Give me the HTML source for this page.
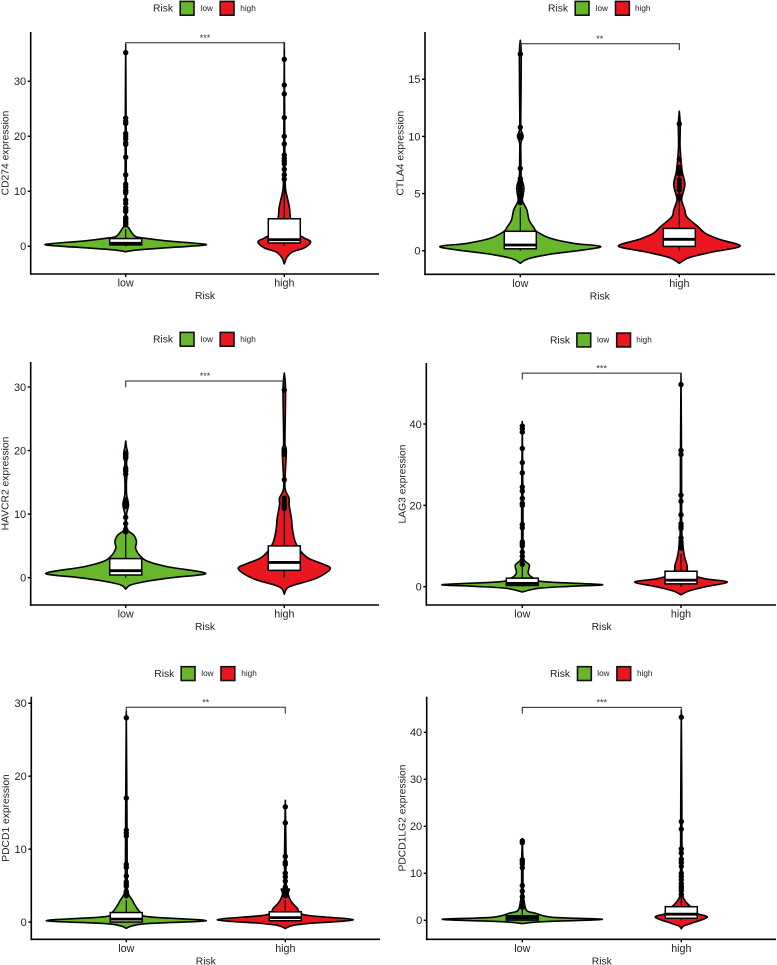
<!DOCTYPE html>
<html lang="en">
<head>
<meta charset="utf-8">
<title>Immune checkpoint expression by risk group</title>
<style>
html,body{margin:0;padding:0;background:#fff;}
svg{display:block;font-family:"Liberation Sans",Arial,sans-serif;}
</style>
</head>
<body>
<svg id="figure" xmlns="http://www.w3.org/2000/svg" width="777" height="965" viewBox="0 0 777 965"></svg>
<script>
const groups = ['low', 'high'];
const groupColors = ['#67B62B', '#E9171F'];

const cd274Ticks = [0, 10, 20, 30];
const cd274Domain = [-5.04, 38.96];
const cd274Bracket = [37];
const cd274Stars = ['***'];
const cd274LowValues = [-1, -0.85, -0.6, -0.25, 0, 0.36, 1, 1.45, 1.75, 2.7, 3.3, 3.6, 4.5, 6, 20, 36.7];
const cd274LowDensity = [0, 0.05, 0.2, 0.53, 0.8, 1, 0.5, 0.25, 0.125, 0.065, 0.04, 0.022, 0.012, 0.007, 0.006, 0];
const cd274LowBox = [0.25, 0.55, 1.4, 3.1, 0];
const cd274LowOutliers = [35.2, 23.3, 22.7, 22.3, 20.5, 20, 19.5, 18.8, 18.5, 16.2, 13, 11.3, 10.8, 10.2, 10, 9.7, 8.4, 7.8, 7, 6.6, 6.3, 5.2, 5, 4.7, 4.4, 4.1, 3.9];
const cd274HighValues = [-3.2, -2, -1, -0.3, 0.8, 1.5, 2.5, 5, 7, 9, 10, 12, 20, 37];
const cd274HighDensity = [0, 0.033, 0.105, 0.25, 0.33, 0.25, 0.15, 0.08, 0.065, 0.035, 0.02, 0.01, 0.006, 0];
const cd274HighBox = [0.6, 1.2, 5, 11.5, 0];
const cd274HighOutliers = [34, 29.3, 27.7, 23.4, 20, 18.6, 16.6, 16, 15.5, 15, 14, 13, 12.2];

const ctla4Ticks = [0, 5, 10, 15];
const ctla4Domain = [-2.06, 19.13];
const ctla4Bracket = [18.1];
const ctla4Stars = ['**'];
const ctla4LowValues = [-1.1, -0.7, -0.3, 0.32, 0.64, 1.08, 1.66, 2.07, 2.69, 3.56, 4.15, 4.5, 5.5, 6.5, 8, 9.4, 10, 10.6, 11.5, 17, 18.4];
const ctla4LowDensity = [0, 0.1, 0.375, 1, 0.67, 0.38, 0.21, 0.165, 0.11, 0.083, 0.04, 0.026, 0.045, 0.012, 0.008, 0.008, 0.035, 0.008, 0.006, 0.012, 0];
const ctla4LowBox = [0.17, 0.5, 1.7, 3.8, 0];
const ctla4LowOutliers = [17.2, 10.8, 10.1, 9.9, 7.2, 6.3, 6, 5.7, 5.4, 5.1, 4.8, 4.4, 4.2];
const ctla4HighValues = [-1.1, -0.6, -0.1, 0.4, 1, 1.5, 2.07, 2.95, 3.56, 4.15, 4.6, 5.8, 7, 9, 11, 12.2];
const ctla4HighDensity = [0, 0.125, 0.42, 0.76, 0.5, 0.33, 0.24, 0.095, 0.07, 0.04, 0.03, 0.07, 0.035, 0.01, 0.012, 0];
const ctla4HighBox = [0.38, 1, 1.95, 4.4, 0];
const ctla4HighOutliers = [11.1, 8, 7.3, 7, 6.7, 6.2, 5.9, 5.6, 5.3, 4.8, 4.6];

const havcr2Ticks = [0, 10, 20, 30];
const havcr2Domain = [-4.3, 33.93];
const havcr2Bracket = [30.95];
const havcr2Stars = ['***'];
const havcr2LowValues = [-1.8, -1.15, -0.6, 0, 0.68, 1.7, 2.5, 3.3, 4.6, 5.7, 6.7, 7.3, 8, 9.9, 11.5, 13, 15, 17, 18, 19.5, 20.5, 21.5];
const havcr2LowDensity = [0, 0.06, 0.25, 0.58, 1, 0.53, 0.29, 0.19, 0.125, 0.135, 0.1, 0.035, 0.012, 0.009, 0.035, 0.012, 0.009, 0.02, 0.01, 0.025, 0.01, 0];
const havcr2LowBox = [0.42, 1.1, 3, 7, 0];
const havcr2LowOutliers = [19.6, 19, 18.8, 17.2, 16.8, 16.3, 12.2, 11.8, 11.5, 11.2, 9.5, 8.5, 7.6, 7.2];
const havcr2HighValues = [-2.6, -1.7, -1.15, -0.1, 1.4, 2.25, 3, 4.1, 5.7, 7.8, 9.3, 11.4, 12.5, 13.8, 15.5, 19.5, 20.5, 21.5, 29.5, 32.2];
const havcr2HighDensity = [0, 0.033, 0.125, 0.4, 0.575, 0.46, 0.31, 0.21, 0.135, 0.1, 0.09, 0.06, 0.06, 0.012, 0.009, 0.025, 0.02, 0.008, 0.016, 0];
const havcr2HighBox = [1.15, 2.4, 5, 10.5, 0];
const havcr2HighOutliers = [29.5, 20, 19.4, 15.4, 12.5, 12, 11.6, 11.2, 10.9];

const lag3Ticks = [0, 20, 40];
const lag3Domain = [-4.5, 55];
const lag3Bracket = [52.5];
const lag3Stars = ['***'];
const lag3LowValues = [-1.3, -0.4, 0.1, 0.5, 1.2, 2, 3.3, 5.3, 6.5, 8, 20, 40.6];
const lag3LowDensity = [0, 0.2, 0.6, 1, 0.29, 0.15, 0.075, 0.088, 0.022, 0.009, 0.008, 0];
const lag3LowBox = [0.3, 0.8, 2.1, 5, 0];
const lag3LowOutliers = [39.5, 38.8, 38, 34, 30.5, 28, 24.5, 23.5, 21.7, 20.5, 20, 15.3, 14.5, 11, 10.5, 10, 8.5, 7.5, 6.5, 5.5];
const lag3HighValues = [-2, -1, 0, 1.15, 2, 3.3, 5.3, 7.8, 11, 15, 30, 52.4];
const lag3HighDensity = [0, 0.105, 0.31, 0.58, 0.29, 0.1, 0.075, 0.04, 0.02, 0.008, 0.007, 0];
const lag3HighBox = [0.7, 1.6, 3.8, 8, 0];
const lag3HighOutliers = [49.7, 33.5, 32.5, 22.5, 21, 17.7, 15.5, 14.8, 14.3, 12, 11, 10.5, 10, 9.5];

const pdcd1Ticks = [0, 10, 20, 30];
const pdcd1Domain = [-2.37, 30.9];
const pdcd1Bracket = [29.45];
const pdcd1Stars = ['**'];
const pdcd1LowValues = [-0.87, -0.5, -0.2, 0.2, 0.73, 1.4, 2.3, 3, 3.9, 5, 15, 28.9];
const pdcd1LowDensity = [0, 0.08, 0.29, 1, 0.27, 0.17, 0.11, 0.075, 0.025, 0.012, 0.008, 0];
const pdcd1LowBox = [0, 0.4, 1.3, 3, 0];
const pdcd1LowOutliers = [28, 17, 12.6, 12.2, 11.8, 7.9, 7.5, 6.3, 5.5, 5.2, 4.9, 4.2, 4, 3.8, 3.6];
const pdcd1HighValues = [-0.9, -0.5, -0.2, 0.32, 0.96, 1.9, 2.8, 3.9, 4.5, 5, 10, 16.7];
const pdcd1HighDensity = [0, 0.08, 0.29, 0.85, 0.25, 0.15, 0.075, 0.035, 0.05, 0.012, 0.009, 0];
const pdcd1HighBox = [0.18, 0.6, 1.4, 3, 0];
const pdcd1HighOutliers = [15.8, 13.6, 9, 8.2, 7.9, 6.7, 6.2, 5.6, 4.8, 4.5, 4.2, 3.9, 3.6];

const pdcd1lg2Ticks = [0, 10, 20, 30, 40];
const pdcd1lg2Domain = [-4.04, 47.57];
const pdcd1lg2Bracket = [45.3];
const pdcd1lg2Stars = ['***'];
const pdcd1lg2LowValues = [-0.7, -0.3, 0.2, 0.64, 1.5, 2, 3.3, 6, 12, 17.4];
const pdcd1lg2LowDensity = [0, 0.25, 1, 0.375, 0.165, 0.06, 0.03, 0.01, 0.008, 0];
const pdcd1lg2LowBox = [0.05, 0.5, 0.95, 2.2, 0];
const pdcd1lg2LowOutliers = [16.9, 16.5, 12.9, 12.5, 12, 11.2, 7.4, 6.2, 5, 4, 3.7, 3.4, 3.1, 2.8];
const pdcd1lg2HighValues = [-1.8, -1.2, -0.64, 0.64, 1.5, 2.9, 4.3, 6, 12, 25, 44.7];
const pdcd1lg2HighDensity = [0, 0.03, 0.125, 0.325, 0.19, 0.115, 0.042, 0.014, 0.009, 0.007, 0];
const pdcd1lg2HighBox = [0.43, 1.3, 2.9, 6, 0];
const pdcd1lg2HighOutliers = [43.2, 21, 19.4, 15.2, 14.3, 13, 12.3, 11.5, 10, 9.3, 8.6, 7.8, 7.2, 6.8, 6.3, 5.5];

const genes = [
  {slug: 'cd274', title: 'CD274 expression', ticks: cd274Ticks, domain: cd274Domain, bracket: cd274Bracket, stars: cd274Stars,
   values: [cd274LowValues, cd274HighValues], density: [cd274LowDensity, cd274HighDensity], box: [cd274LowBox, cd274HighBox], outliers: [cd274LowOutliers, cd274HighOutliers],
   frame: {l: 30.7, r: 379, t: 32, b: 274, a: 125.7, c: 284.3, ty: 5},
   legend: {y: 8, risk: 163, s1: 179.5, t1: 200.7, s2: 219.5, t2: 240.3}},
  {slug: 'ctla4', title: 'CTLA4 expression', ticks: ctla4Ticks, domain: ctla4Domain, bracket: ctla4Bracket, stars: ctla4Stars,
   values: [ctla4LowValues, ctla4HighValues], density: [ctla4LowDensity, ctla4HighDensity], box: [ctla4LowBox, ctla4HighBox], outliers: [ctla4LowOutliers, ctla4HighOutliers],
   frame: {l: 425, r: 775, t: 32, b: 274.3, a: 520.3, c: 679.3, ty: 400},
   legend: {y: 8, risk: 558, s1: 574.5, t1: 595.7, s2: 614.8, t2: 635}},
  {slug: 'havcr2', title: 'HAVCR2 expression', ticks: havcr2Ticks, domain: havcr2Domain, bracket: havcr2Bracket, stars: havcr2Stars,
   values: [havcr2LowValues, havcr2HighValues], density: [havcr2LowDensity, havcr2HighDensity], box: [havcr2LowBox, havcr2HighBox], outliers: [havcr2LowOutliers, havcr2HighOutliers],
   frame: {l: 30.7, r: 379, t: 362, b: 605, a: 125.7, c: 284.3, ty: 5},
   legend: {y: 339, risk: 163, s1: 179.5, t1: 200.7, s2: 219.5, t2: 240.3}},
  {slug: 'lag3', title: 'LAG3 expression', ticks: lag3Ticks, domain: lag3Domain, bracket: lag3Bracket, stars: lag3Stars,
   values: [lag3LowValues, lag3HighValues], density: [lag3LowDensity, lag3HighDensity], box: [lag3LowBox, lag3HighBox], outliers: [lag3LowOutliers, lag3HighOutliers],
   frame: {l: 426.3, r: 776, t: 363, b: 605, a: 522.3, c: 681, ty: 401.7},
   legend: {y: 339.7, risk: 560, s1: 576.2, t1: 597, s2: 616, t2: 636.3}},
  {slug: 'pdcd1', title: 'PDCD1 expression', ticks: pdcd1Ticks, domain: pdcd1Domain, bracket: pdcd1Bracket, stars: pdcd1Stars,
   values: [pdcd1LowValues, pdcd1HighValues], density: [pdcd1LowDensity, pdcd1HighDensity], box: [pdcd1LowBox, pdcd1HighBox], outliers: [pdcd1LowOutliers, pdcd1HighOutliers],
   frame: {l: 31.3, r: 380, t: 696.7, b: 939.3, a: 126.3, c: 285.3, ty: 5.5},
   legend: {y: 673.3, risk: 164.3, s1: 180.5, t1: 201.3, s2: 220.3, t2: 241.3}},
  {slug: 'pdcd1lg2', title: 'PDCD1LG2 expression', ticks: pdcd1lg2Ticks, domain: pdcd1lg2Domain, bracket: pdcd1lg2Bracket, stars: pdcd1lg2Stars,
   values: [pdcd1lg2LowValues, pdcd1lg2HighValues], density: [pdcd1lg2LowDensity, pdcd1lg2HighDensity], box: [pdcd1lg2LowBox, pdcd1lg2HighBox], outliers: [pdcd1lg2LowOutliers, pdcd1lg2HighOutliers],
   frame: {l: 426.7, r: 776, t: 696.7, b: 939.3, a: 522.3, c: 681.3, ty: 402},
   legend: {y: 673.3, risk: 560, s1: 576.8, t1: 597.3, s2: 616.2, t2: 637}}
];

const MAX_HALF_WIDTH = 80;
const BOX_HALF_WIDTH = 16;
const svg = document.getElementById('figure');
const NS = 'http://www.w3.org/2000/svg';

function make(parent, tag, props, text) {
  const node = document.createElementNS(NS, tag);
  for (const k in props) node.setAttribute(k, props[k]);
  if (text !== undefined) node.textContent = text;
  parent.appendChild(node);
  return node;
}

function smooth(points) {
  let d = 'M' + points[0][0].toFixed(2) + ' ' + points[0][1].toFixed(2);
  for (let i = 0; i < points.length - 1; i++) {
    const p0 = points[Math.max(i - 1, 0)], p1 = points[i], p2 = points[i + 1], p3 = points[Math.min(i + 2, points.length - 1)];
    const k = 1 / 6;
    const c1x = p1[0] + (p2[0] - p0[0]) * k, c1y = p1[1] + (p2[1] - p0[1]) * k;
    const c2x = p2[0] - (p3[0] - p1[0]) * k, c2y = p2[1] - (p3[1] - p1[1]) * k;
    d += 'C' + c1x.toFixed(2) + ' ' + c1y.toFixed(2) + ' ' + c2x.toFixed(2) + ' ' + c2y.toFixed(2) + ' ' + p2[0].toFixed(2) + ' ' + p2[1].toFixed(2);
  }
  return d;
}

function drawLegend(root, gene) {
  const L = gene.legend;
  const g = make(root, 'g', {});
  
  
  const title = make(g, 'text', {x: L.risk, y: L.y + 3.6, 'text-anchor': 'middle', 'font-size': 10.3, fill: '#222'}, 'Risk');
  
  
  [[L.s1, L.t1], [L.s2, L.t2]].forEach(function (pos, i) {
    const swatch = make(g, 'rect', {x: pos[0] + 0.7, y: L.y - 6.6, width: 13.8, height: 13.8, fill: groupColors[i], stroke: '#111', 'stroke-width': 1.6});
    
    
    const label = make(g, 'text', {x: pos[1], y: L.y + 2.9, 'font-size': 8.2, fill: '#222'}, groups[i]);
    
    
  });
}

function drawPanel(gene) {
  const F = gene.frame;
  const yScale = function (v) {
    return F.b - (v - gene.domain[0]) / (gene.domain[1] - gene.domain[0]) * (F.b - F.t);
  };
  const xScale = function (i) { return i === 0 ? F.a : F.c; };
  const root = make(svg, 'g', {});
  
  

  drawLegend(root, gene);

  groups.forEach(function (name, i) {
    const cx = xScale(i);
    const group = make(root, 'g', {});
    
    

    const vals = gene.values[i], dens = gene.density[i];
    const leftSide = vals.map(function (v, j) { return [cx - dens[j] * MAX_HALF_WIDTH, yScale(v)]; });
    const rightSide = vals.map(function (v, j) { return [cx + dens[j] * MAX_HALF_WIDTH, yScale(v)]; }).reverse();
    const shape = smooth(leftSide) + smooth(rightSide).replace(/^M[^C]*/, '') + 'Z';
    const violin = make(group, 'path', {d: shape, fill: groupColors[i], stroke: '#000', 'stroke-width': 1.6, 'stroke-linejoin': 'round'});
    
    

    const B = gene.box[i];
    const whisker = make(group, 'line', {x1: cx, x2: cx, y1: yScale(B[4]), y2: yScale(B[3]), stroke: '#000', 'stroke-width': 1.2});
    
    

    const box = make(group, 'rect', {x: cx - BOX_HALF_WIDTH, y: yScale(B[2]), width: BOX_HALF_WIDTH * 2, height: yScale(B[0]) - yScale(B[2]), fill: '#fff', stroke: '#000', 'stroke-width': 1.5});
    
    

    const median = make(group, 'line', {x1: cx - BOX_HALF_WIDTH, x2: cx + BOX_HALF_WIDTH, y1: yScale(B[1]), y2: yScale(B[1]), stroke: '#000', 'stroke-width': 2.8});
    
    

    gene.outliers[i].forEach(function (v) {
      const dot = make(group, 'circle', {cx: cx, cy: yScale(v), r: 2.7, fill: '#000'});
      
      
    });
  });

  const by = yScale(gene.bracket[0]);
  const bracket = make(root, 'path', {d: 'M' + F.a + ' ' + (by + 6.3) + 'V' + by + 'H' + F.c + 'V' + (by + 6.3), fill: 'none', stroke: '#222', 'stroke-width': 1});
  
  
  const stars = make(root, 'text', {x: (F.a + F.c) / 2, y: by - 1.8, 'text-anchor': 'middle', 'font-size': 9, fill: '#333'}, gene.stars[0]);
  
  

  const yAxis = make(root, 'line', {x1: F.l, x2: F.l, y1: F.t, y2: F.b + 0.8, stroke: '#000', 'stroke-width': 1.6});
  
  
  const xAxis = make(root, 'line', {x1: F.l - 0.8, x2: F.r, y1: F.b, y2: F.b, stroke: '#000', 'stroke-width': 1.6});
  
  

  gene.ticks.forEach(function (t) {
    const tick = make(root, 'line', {x1: F.l - 3, x2: F.l, y1: yScale(t), y2: yScale(t), stroke: '#000', 'stroke-width': 1.4});
    
    
    const label = make(root, 'text', {x: F.l - 4.5, y: yScale(t) + 3.9, 'text-anchor': 'end', 'font-size': 11, fill: '#222'}, String(t));
    
    
  });

  groups.forEach(function (name, i) {
    const tick = make(root, 'line', {x1: xScale(i), x2: xScale(i), y1: F.b, y2: F.b + 3, stroke: '#000', 'stroke-width': 1.4});
    
    
    const label = make(root, 'text', {x: xScale(i), y: F.b + 12.7, 'text-anchor': 'middle', 'font-size': 10.7, fill: '#222'}, name);
    
    
  });

  const xTitle = make(root, 'text', {x: (F.a + F.c) / 2, y: F.b + 25.2, 'text-anchor': 'middle', 'font-size': 10.3, fill: '#222'}, 'Risk');
  
  
  const midY = (F.t + F.b) / 2;
  const yTitle = make(root, 'text', {x: F.ty + 3.6, y: midY, transform: 'rotate(-90 ' + (F.ty + 3.6) + ' ' + midY + ')', 'text-anchor': 'middle', 'font-size': 10.3, fill: '#222'}, gene.title);
  
  
}

genes.forEach(drawPanel);
</script>
</body>
</html>
